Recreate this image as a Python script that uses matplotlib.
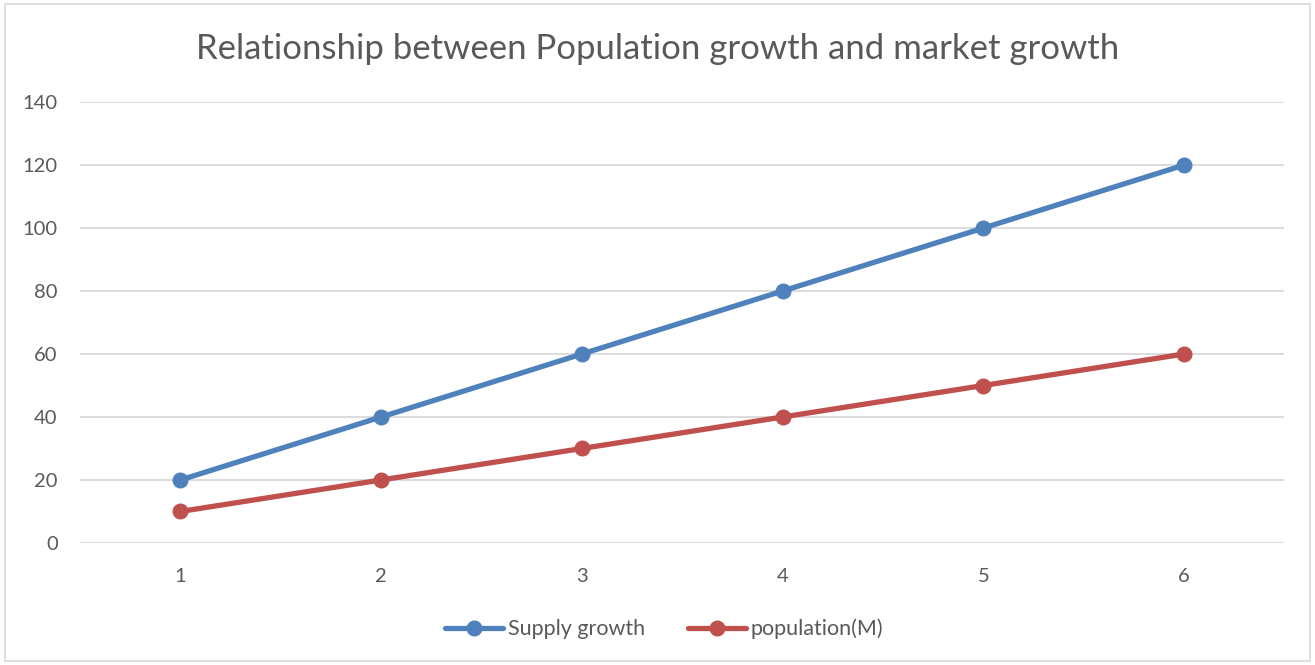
import matplotlib.pyplot as plt
from matplotlib.patches import Rectangle

# chart data
periods = [1, 2, 3, 4, 5, 6]
supply_growth = [20, 40, 60, 80, 100, 120]
population = [10, 20, 30, 40, 50, 60]

plt.rcParams['font.family'] = ['Lato', 'DejaVu Sans']

fig = plt.figure(figsize=(13.15, 6.65), dpi=100)
ax = fig.add_axes([0.0608, 0.1835, 0.916, 0.663])

ax.plot(periods, supply_growth, color='#4F81BD', linewidth=3.8, marker='o',
        markersize=10.5, label='Supply growth', solid_capstyle='round', zorder=3)
ax.plot(periods, population, color='#C0504D', linewidth=3.8, marker='o',
        markersize=10.5, label='population(M)', solid_capstyle='round', zorder=3)

ax.set_xlim(0.5, 6.5)
ax.set_ylim(0, 140)
ax.set_yticks(range(0, 141, 20))
ax.set_xticks(periods)
ax.grid(axis='y', color='#D9D9D9', linewidth=1.3)
ax.set_axisbelow(True)
for s in ax.spines.values():
    s.set_visible(False)
ax.tick_params(length=0, labelsize=14.5, labelcolor='#595959')
ax.tick_params(axis='x', pad=18)
ax.tick_params(axis='y', pad=16)

fig.suptitle('Relationship between Population growth and market growth',
             fontsize=25, color='#595959', y=0.95)

fig.legend(loc='center', bbox_to_anchor=(0.505, 0.054), ncol=2, frameon=False,
           fontsize=15.5, labelcolor='#595959', handlelength=2.7, handletextpad=0.2,
           columnspacing=2.0)

fig.patches.append(Rectangle((0.004, 0.006), 0.992, 0.988, transform=fig.transFigure,
                             fill=False, edgecolor='#D9D9D9', linewidth=1.2))

fig.savefig('out.png', dpi=100)
